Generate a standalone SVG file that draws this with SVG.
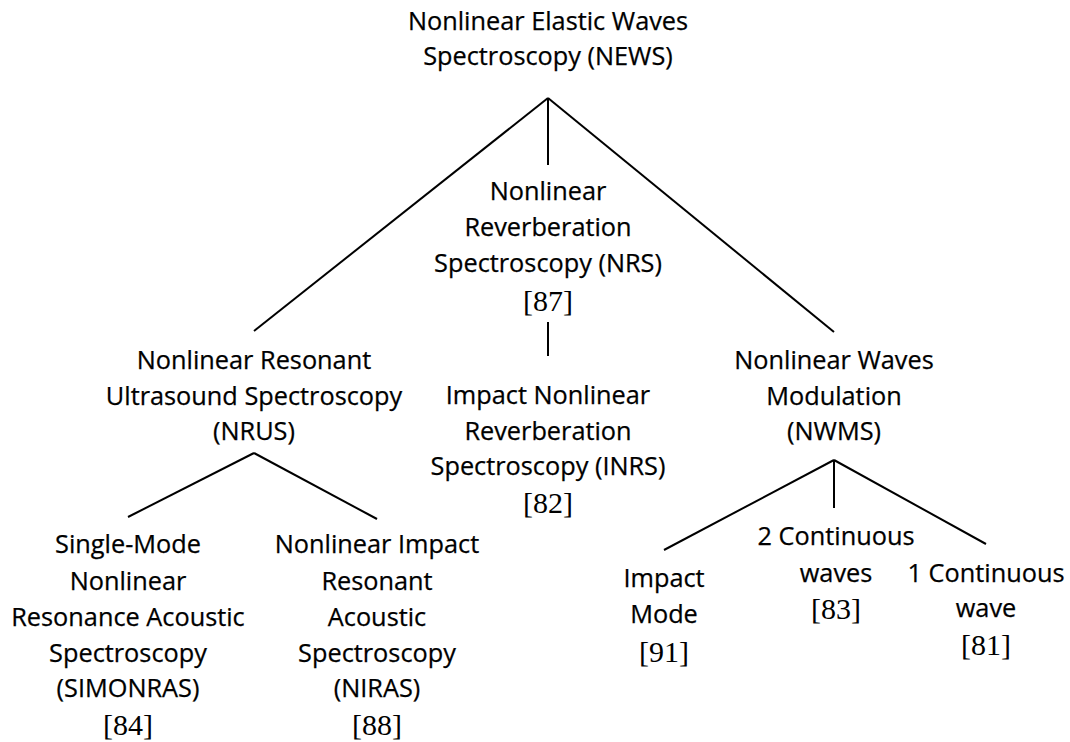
<svg xmlns="http://www.w3.org/2000/svg" width="1070" height="742" viewBox="0 0 1070 742">
<style>
.t{font-family:"Open Sans","Noto Sans",sans-serif;font-size:25.3px;fill:#000;stroke:#000;stroke-width:0.25px;text-anchor:middle}
.r{font-family:"Liberation Serif","Times New Roman",serif;font-size:30px;fill:#000;text-anchor:middle}
.c line{stroke:#000;stroke-width:2;stroke-linecap:butt}
</style>
<rect width="1070" height="742" fill="#fff"/>
<g class="c" id="connectors">
<line x1="548" y1="98" x2="254" y2="331"/>
<line x1="548" y1="98" x2="548" y2="165"/>
<line x1="548" y1="98" x2="834" y2="332"/>
<line x1="548" y1="322" x2="548" y2="356"/>
<line x1="254" y1="453" x2="128" y2="517"/>
<line x1="254" y1="453" x2="377" y2="519"/>
<line x1="834" y1="460" x2="664" y2="550"/>
<line x1="834" y1="460" x2="834" y2="508"/>
<line x1="834" y1="460" x2="986" y2="544"/>
</g>
<g id="news">
<text class="t" x="548" y="30">Nonlinear Elastic Waves</text>
<text class="t" x="548" y="65">Spectroscopy (NEWS)</text>
</g>
<g id="nrs">
<text class="t" x="548" y="200">Nonlinear</text>
<text class="t" x="548" y="236">Reverberation</text>
<text class="t" x="548" y="272">Spectroscopy (NRS)</text>
<text class="r" x="548" y="311">[87]</text>
</g>
<g id="inrs">
<text class="t" x="548" y="404">Impact Nonlinear</text>
<text class="t" x="548" y="440">Reverberation</text>
<text class="t" x="548" y="475">Spectroscopy (INRS)</text>
<text class="r" x="548" y="513">[82]</text>
</g>
<g id="nrus">
<text class="t" x="254" y="369">Nonlinear Resonant</text>
<text class="t" x="254" y="405">Ultrasound Spectroscopy</text>
<text class="t" x="254" y="440">(NRUS)</text>
</g>
<g id="nwms">
<text class="t" x="834" y="369">Nonlinear Waves</text>
<text class="t" x="834" y="405">Modulation</text>
<text class="t" x="834" y="440">(NWMS)</text>
</g>
<g id="simonras">
<text class="t" x="128" y="553">Single-Mode</text>
<text class="t" x="128" y="590">Nonlinear</text>
<text class="t" x="128" y="626">Resonance Acoustic</text>
<text class="t" x="128" y="662">Spectroscopy</text>
<text class="t" x="128" y="697">(SIMONRAS)</text>
<text class="r" x="128" y="735">[84]</text>
</g>
<g id="niras">
<text class="t" x="377" y="553">Nonlinear Impact</text>
<text class="t" x="377" y="590">Resonant</text>
<text class="t" x="377" y="626">Acoustic</text>
<text class="t" x="377" y="662">Spectroscopy</text>
<text class="t" x="377" y="697">(NIRAS)</text>
<text class="r" x="377" y="735">[88]</text>
</g>
<g id="impact-mode">
<text class="t" x="664" y="587">Impact</text>
<text class="t" x="664" y="623">Mode</text>
<text class="r" x="664" y="662">[91]</text>
</g>
<g id="two-continuous">
<text class="t" x="836" y="545">2 Continuous</text>
<text class="t" x="836" y="582">waves</text>
<text class="r" x="836" y="619">[83]</text>
</g>
<g id="one-continuous">
<text class="t" x="986" y="582">1 Continuous</text>
<text class="t" x="986" y="617">wave</text>
<text class="r" x="986" y="655">[81]</text>
</g>
</svg>
